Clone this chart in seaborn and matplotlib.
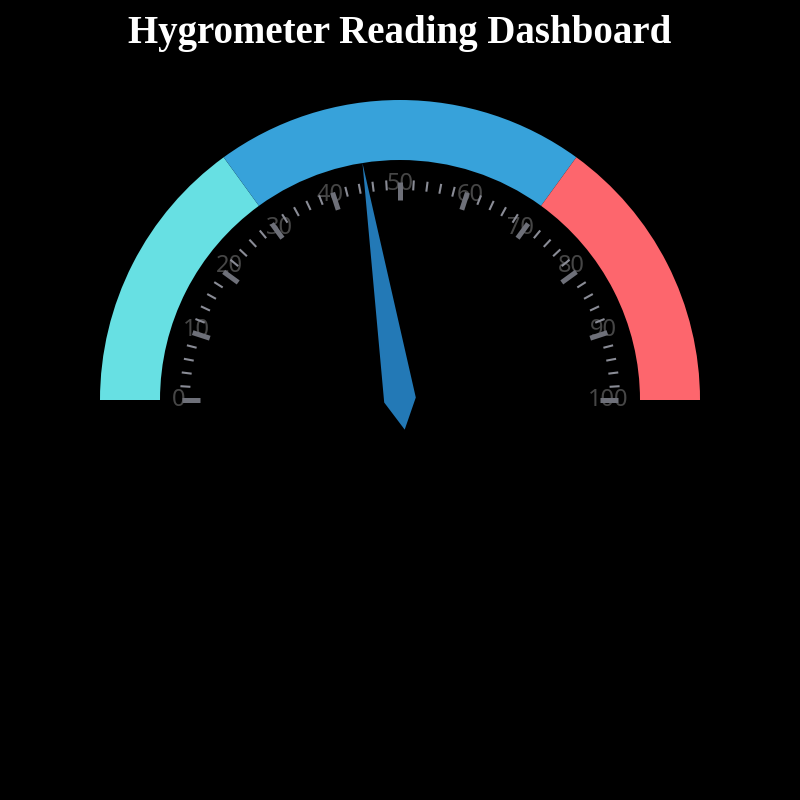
import numpy as np
import matplotlib
matplotlib.use("Agg")
import matplotlib.pyplot as plt
from matplotlib.patches import Wedge, Polygon
import seaborn as sns

# gauge data
reading = 45
gauge_min, gauge_max = 0, 100
band_stops = [0.3, 0.7, 1.0]
band_colors = ["#67e0e3", "#37a2da", "#fd666d"]
major_ticks = list(range(0, 101, 10))
minor_ticks = [v for v in range(0, 101, 2) if v % 10 != 0]
title = "Hygrometer Reading Dashboard"

sns.set_theme(style="dark")
plt.rcParams['font.family'] = ['Noto Sans', 'DejaVu Sans']

fig = plt.figure(figsize=(8, 8), dpi=100, facecolor="black")
ax = fig.add_axes([0, 0, 1, 1])
ax.set_facecolor("black")
ax.set_xlim(-400, 400)
ax.set_ylim(-400, 400)
ax.set_aspect("equal")
ax.axis("off")

r_out, r_in = 300, 240


def val_angle(v):
    # 0 at the left, 100 at the right, degrees
    return 180 - (v - gauge_min) / (gauge_max - gauge_min) * 180


# colour bands
start = 0.0
for stop, col in zip(band_stops, band_colors):
    ax.add_patch(Wedge((0, 0), r_out, val_angle(stop * 100), val_angle(start * 100),
                       width=r_out - r_in, facecolor=col, edgecolor="none", zorder=1))
    start = stop

# tick labels, aligned the way echarts gauges do it
for v in major_ticks:
    a = np.radians(val_angle(v))
    ux, uy = np.cos(a), np.sin(a)
    ha = "left" if ux < -0.4 else ("right" if ux > 0.4 else "center")
    va = "top" if uy > 0.8 else "center"
    ax.text(228 * ux, 228 * uy, str(v), color="#464646",
            fontsize=17, ha=ha, va=va, zorder=2)

# minor ticks
for v in minor_ticks:
    a = np.radians(val_angle(v))
    ax.plot([210 * np.cos(a), 220 * np.cos(a)], [210 * np.sin(a), 220 * np.sin(a)],
            color="#8a8c96", lw=1.5, solid_capstyle="butt", zorder=3)

# major ticks
for v in major_ticks:
    a = np.radians(val_angle(v))
    ax.plot([200 * np.cos(a), 218 * np.cos(a)], [200 * np.sin(a), 218 * np.sin(a)],
            color="#6e7079", lw=3.6, solid_capstyle="butt", zorder=3)

# needle
a = np.radians(val_angle(reading))
u = np.array([np.cos(a), np.sin(a)])
n = np.array([-np.sin(a), np.cos(a)])
needle = [240 * u, 16 * n, -30 * u, -16 * n]
ax.add_patch(Polygon(needle, closed=True, facecolor="#2379b6", edgecolor="none", zorder=4))

fig.text(0.5, 1 - 34 / 800, title, color="white", fontsize=28, fontweight="bold",
         family="Liberation Serif", ha="center", va="center")

fig.savefig("out.png", dpi=100, facecolor="black")
